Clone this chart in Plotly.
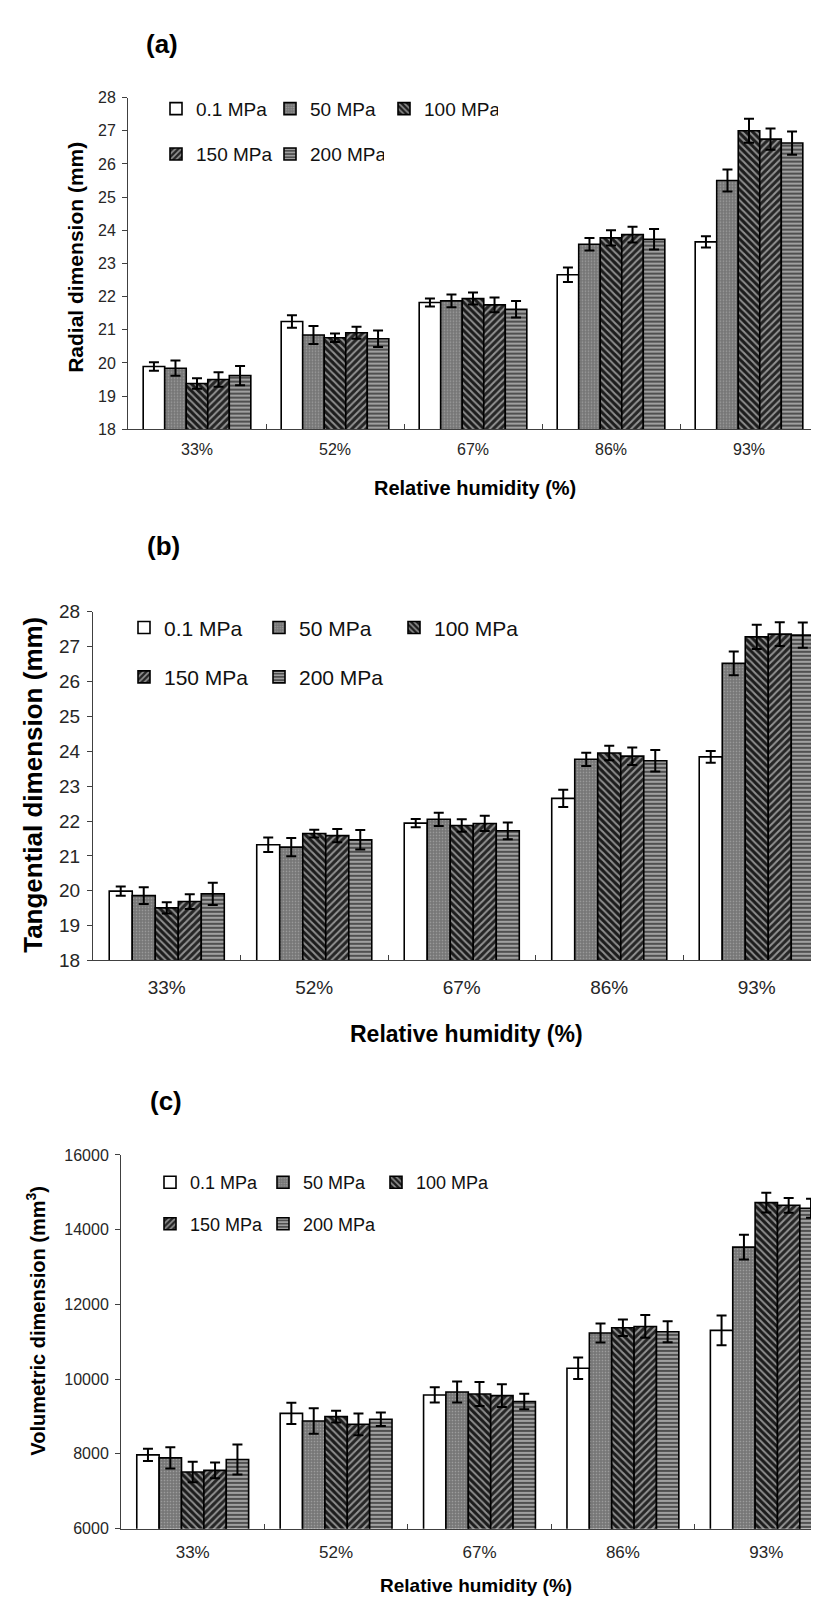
import plotly.graph_objects as go

W, H = 819, 1602

categories = ["33%", "52%", "67%", "86%", "93%"]
pressures = ["0.1 MPa", "50 MPa", "100 MPa", "150 MPa", "200 MPa"]

# (a) Radial dimension (mm)
radial_0_1 = [19.89, 21.25, 21.82, 22.66, 23.65]
radial_50 = [19.84, 20.84, 21.87, 23.58, 25.50]
radial_100 = [19.38, 20.76, 21.94, 23.77, 27.00]
radial_150 = [19.50, 20.91, 21.75, 23.87, 26.75]
radial_200 = [19.62, 20.73, 21.62, 23.73, 26.63]
radial_0_1_err = [0.13, 0.19, 0.12, 0.22, 0.17]
radial_50_err = [0.23, 0.27, 0.19, 0.19, 0.33]
radial_100_err = [0.16, 0.13, 0.18, 0.23, 0.36]
radial_150_err = [0.22, 0.18, 0.22, 0.24, 0.32]
radial_200_err = [0.29, 0.25, 0.25, 0.31, 0.35]

# (b) Tangential dimension (mm)
tang_0_1 = [19.99, 21.32, 21.94, 22.65, 23.84]
tang_50 = [19.86, 21.25, 22.05, 23.77, 26.52]
tang_100 = [19.51, 21.64, 21.87, 23.95, 27.28]
tang_150 = [19.69, 21.58, 21.93, 23.86, 27.36]
tang_200 = [19.91, 21.46, 21.72, 23.73, 27.33]
tang_0_1_err = [0.13, 0.21, 0.12, 0.25, 0.17]
tang_50_err = [0.24, 0.26, 0.19, 0.19, 0.34]
tang_100_err = [0.16, 0.11, 0.18, 0.21, 0.35]
tang_150_err = [0.21, 0.19, 0.22, 0.25, 0.34]
tang_200_err = [0.32, 0.28, 0.24, 0.31, 0.36]

# (c) Volumetric dimension (mm3)
vol_0_1 = [7974, 9084, 9577, 10291, 11304]
vol_50 = [7894, 8881, 9656, 11233, 13533]
vol_100 = [7515, 8996, 9604, 11374, 14722]
vol_150 = [7559, 8793, 9559, 11410, 14652]
vol_200 = [7850, 8925, 9401, 11269, 14573]
vol_0_1_err = [163, 286, 203, 286, 400]
vol_50_err = [286, 339, 278, 255, 330]
vol_100_err = [273, 159, 322, 220, 264]
vol_150_err = [211, 291, 304, 304, 198]
vol_200_err = [400, 181, 207, 282, 255]

panels = [
    dict(means=[radial_0_1, radial_50, radial_100, radial_150, radial_200],
         errs=[radial_0_1_err, radial_50_err, radial_100_err, radial_150_err, radial_200_err],
         xa="x", ya="y", legs=("legend", "legend2")),
    dict(means=[tang_0_1, tang_50, tang_100, tang_150, tang_200],
         errs=[tang_0_1_err, tang_50_err, tang_100_err, tang_150_err, tang_200_err],
         xa="x2", ya="y2", legs=("legend3", "legend4")),
    dict(means=[vol_0_1, vol_50, vol_100, vol_150, vol_200],
         errs=[vol_0_1_err, vol_50_err, vol_100_err, vol_150_err, vol_200_err],
         xa="x3", ya="y3", legs=("legend5", "legend6")),
]

bar_bg = ["white", "#767676", "#1c1c1c", "#262626", "#505050"]
patterns = [
    dict(shape=""),
    dict(shape=".", bgcolor="#767676", fgcolor="#c8c8c8", size=3, solidity=0.25),
    dict(shape="\\", bgcolor="#1c1c1c", fgcolor="#ffffff", size=5, solidity=0.4),
    dict(shape="/", bgcolor="#262626", fgcolor="#ffffff", size=5, solidity=0.4),
    dict(shape="-", bgcolor="#505050", fgcolor="#f0f0f0", size=4, solidity=0.5),
]

FONT = "Arial, Liberation Sans, sans-serif"

fig = go.Figure()
for p in panels:
    for i, name in enumerate(pressures):
        fig.add_trace(go.Bar(
            x=categories, y=p["means"][i], name=name,
            xaxis=p["xa"], yaxis=p["ya"],
            legend=p["legs"][0] if i < 3 else p["legs"][1],
            marker=dict(color=bar_bg[i], line=dict(color="black", width=1.6),
                        pattern=patterns[i]),
            error_y=dict(type="data", array=p["errs"][i], visible=True,
                         color="black", thickness=2, width=5),
        ))


def px(x):
    return x / W


def py(y):
    return 1 - y / H


axis_line = "#404040"
tick_col = "#262626"


def xaxis(d0, d1, rng, fs, standoff, anchor):
    return dict(domain=[d0, d1], range=rng, type="category", anchor=anchor,
                showline=True, linecolor=axis_line, linewidth=1,
                ticks="inside", tickson="boundaries", ticklen=5, tickcolor=axis_line,
                tickfont=dict(family=FONT, size=fs, color=tick_col),
                ticklabelstandoff=standoff, showgrid=False, zeroline=False, fixedrange=True)


def yaxis(d0, d1, rng, dtick, fs, anchor):
    return dict(domain=[d0, d1], range=rng, dtick=dtick, anchor=anchor,
                tickformat="d",
                showline=True, linecolor=axis_line, linewidth=1,
                ticks="outside", ticklen=5, tickcolor=axis_line,
                tickfont=dict(family=FONT, size=fs, color=tick_col),
                ticklabelstandoff=3, showgrid=False, zeroline=False, fixedrange=True)


def legend(xpix, ypix, fs, ew):
    return dict(orientation="h", x=px(xpix), y=py(ypix), xanchor="left", yanchor="middle",
                xref="paper", yref="paper", entrywidth=ew, entrywidthmode="pixels",
                bgcolor="rgba(0,0,0,0)", borderwidth=0,
                font=dict(family=FONT, size=fs, color="#111111"))


layout = dict(
    width=W, height=H, autosize=False,
    margin=dict(l=0, r=0, t=0, b=0),
    paper_bgcolor="white", plot_bgcolor="white",
    barmode="group", bargap=0.22, bargroupgap=0,
    font=dict(family=FONT),
    xaxis=xaxis(px(120), px(810), [-0.5, 4.5], 16, 6, "y"),
    yaxis=yaxis(py(416.7), py(80.7), [18, 28], 1, 16, "x"),
    xaxis2=xaxis(px(85), 1, [-0.5, -0.5 + (819 - 85) / 147.5], 19, 10, "y2"),
    yaxis2=yaxis(py(955), py(601.7), [18, 28], 1, 19, "x2"),
    xaxis3=xaxis(px(113), 1, [-0.5, -0.5 + (819 - 113) / 143.4], 17, 8, "y3"),
    yaxis3=yaxis(py(1530.7), py(1152), [6000, 16000], 2000, 16, "x3"),
    legend=legend(148, 92, 19, 69),
    legend2=legend(148, 138, 19, 69),
    legend3=legend(116, 618, 21, 90),
    legend4=legend(116, 668, 21, 90),
    legend5=legend(142, 1180, 18, 68),
    legend6=legend(142, 1222, 18, 68),
)
fig.update_layout(**layout)

annots = [
    ("<b>(a)</b>", 154, 26, 26, 0),
    ("<b>(b)</b>", 155, 535, 26, 0),
    ("<b>(c)</b>", 158, 1097, 26, 0),
    ("<b>Relative humidity (%)</b>", 467, 476, 20, 0),
    ("<b>Relative humidity (%)</b>", 458, 1030, 23, 0),
    ("<b>Relative humidity (%)</b>", 468, 1588, 19, 0),
    ("<b>Radial dimension (mm)</b>", 68, 243, 21, -90),
    ("<b>Tangential dimension (mm)</b>", 25, 777, 26, -90),
    ("<b>Volumetric dimension (mm<sup>3</sup>)</b>", 28, 1320, 20, -90),
]
for text, x, y, fs, ang in annots:
    fig.add_annotation(text=text, x=px(x), y=py(y), xref="paper", yref="paper",
                       xanchor="center", yanchor="middle", showarrow=False, textangle=ang,
                       font=dict(family=FONT, size=fs, color="black"))

fig.write_html("out.html")
